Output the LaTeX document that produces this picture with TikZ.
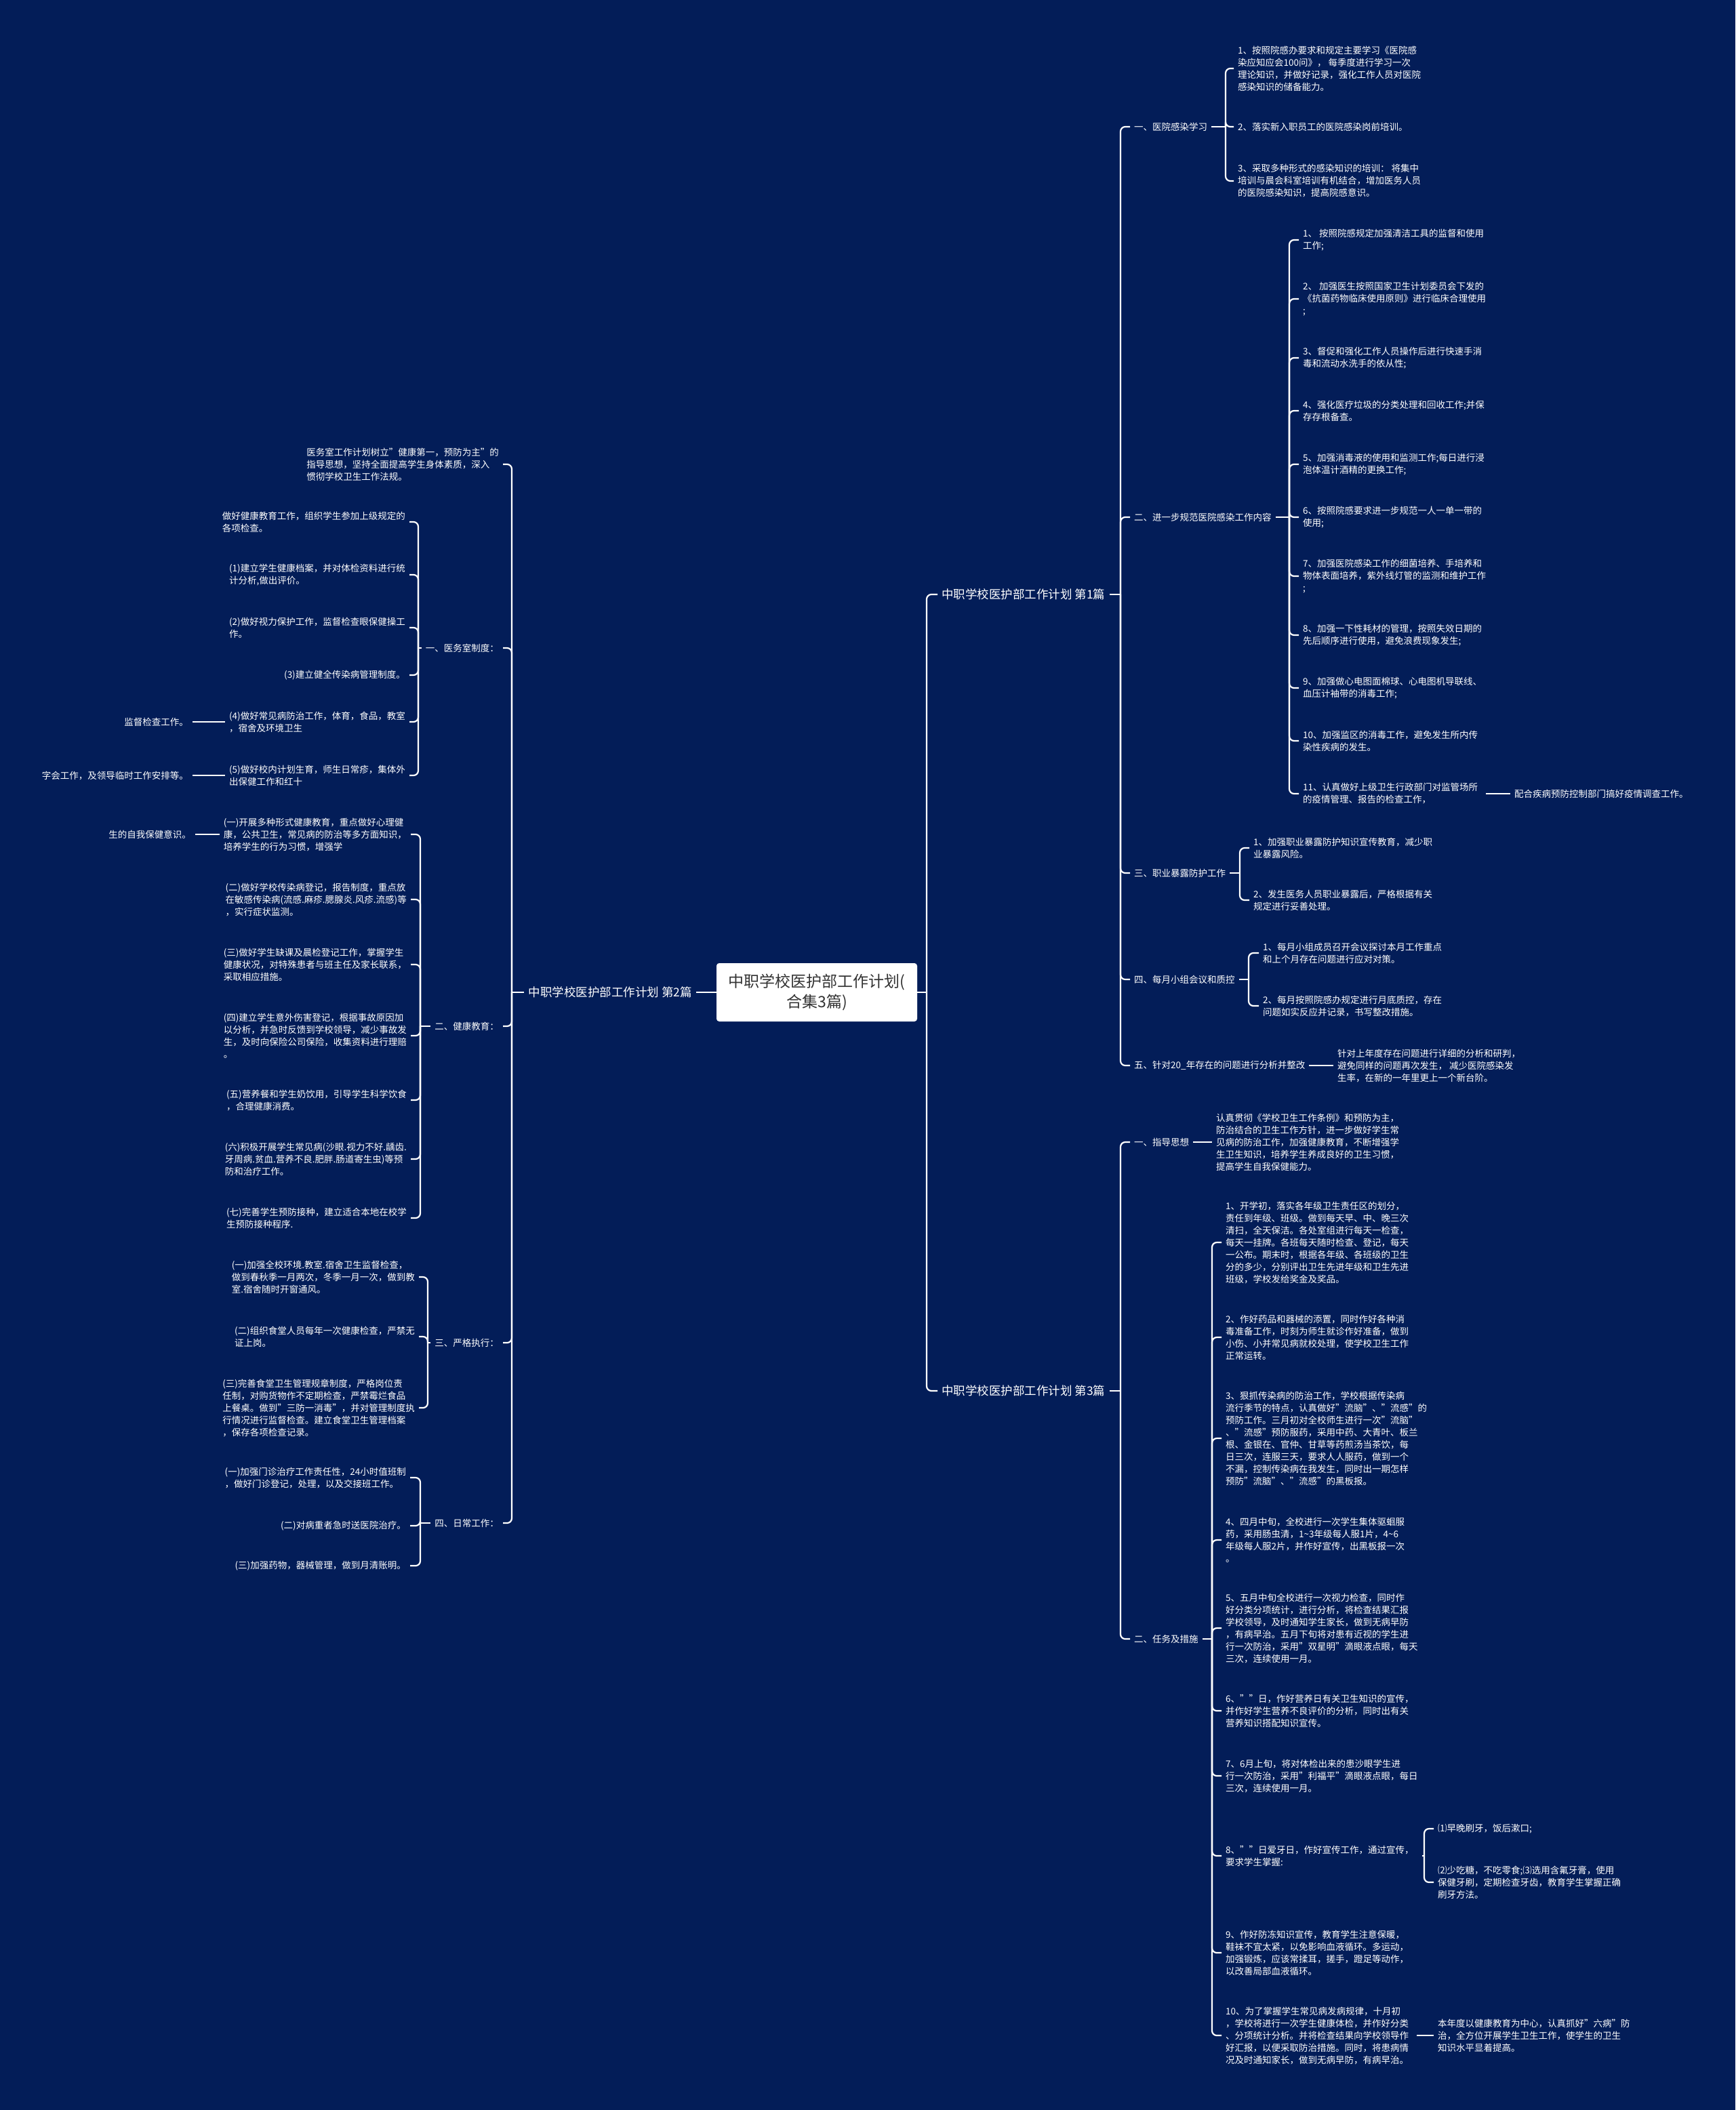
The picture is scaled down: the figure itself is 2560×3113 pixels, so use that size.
\documentclass[tikz,border=0pt]{standalone}
\usepackage{fontspec}
\setmainfont{Noto Sans CJK SC}
\usepackage{xcolor}
\usepackage{tikz}

\definecolor{mapbg}{HTML}{031D58}
\definecolor{hubtext}{HTML}{333333}

\begin{document}
\begin{tikzpicture}[
    x=1pt, y=-1pt,
    link/.style = {draw=white, line width=2.2pt, rounded corners=7pt},
    leaflink/.style = {link, shorten <=6pt},
    hub/.style  = {fill=white, rounded corners=4pt, minimum width=296pt,
                   minimum height=86pt, align=center, text=hubtext,
                   font=\fontsize{23}{30}\selectfont},
    part/.style = {text=white, inner xsep=6pt, font=\fontsize{17.5}{22}\selectfont},
    sec/.style  = {text=white, inner xsep=6pt, align=left,
                   font=\fontsize{13.5}{18}\selectfont}
  ]

  % background and page size
  \fill[mapbg] (0,0) rectangle (2560,3113);
  \useasboundingbox (0,0) rectangle (2560,3113);

  % ----------------------------------------------------------------
  % Centre node and the three parts
  % ----------------------------------------------------------------
  \node[hub] (hub) at (1205,1464) {中职学校医护部工作计划(\\合集3篇)};

  \node[part, anchor=west] (part1) at (1383,877)  {中职学校医护部工作计划 第1篇};
  \node[part, anchor=east] (part2) at (1027,1464) {中职学校医护部工作计划 第2篇};
  \node[part, anchor=west] (part3) at (1383,2052) {中职学校医护部工作计划 第3篇};

  \coordinate (t0) at (1367,1464);
  \draw[link] (hub.east) -- (t0);
  \foreach \p in {part1,part3}
    \draw[link] (t0) |- (\p.west);
  \draw[link] (part2.east) -- (hub.west);

  % ----------------------------------------------------------------
  % Part 1 (right, top)
  % ----------------------------------------------------------------
  \coordinate (t1) at (1653,877);
  \draw[link] (part1.east) -- (t1);
  \foreach \nm/\yy/\txt in {
      s11/187/{一、医院感染学习},
      s12/763/{二、进一步规范医院感染工作内容},
      s13/1288/{三、职业暴露防护工作},
      s14/1445/{四、每月小组会议和质控},
      s15/1572/{五、针对20\_年存在的问题进行分析并整改}}{
    \node[sec, anchor=west] (\nm) at (1667,\yy) {\txt};
    \draw[link] (t1) |- (\nm.west);
  }

  % 一、医院感染学习
  \coordinate (t11) at (1808,187);
  \draw[link] (s11.east) -- (t11);
  \foreach \nm/\yy/\txt in {
      s11i1/101/{1、按照院感办要求和规定主要学习《医院感\\染应知应会100问》， 每季度进行学习一次\\理论知识，并做好记录，强化工作人员对医院\\感染知识的储备能力。},
      s11i2/187/{2、落实新入职员工的医院感染岗前培训。},
      s11i3/267/{3、采取多种形式的感染知识的培训： 将集中\\培训与晨会科室培训有机结合，增加医务人员\\的医院感染知识，提高院感意识。}}{
    \node[sec, anchor=west] (\nm) at (1820,\yy) {\txt};
    \draw[link] (t11) |- (\nm.west);
  }

  % 二、进一步规范医院感染工作内容
  \coordinate (t12) at (1902,763);
  \draw[link] (s12.east) -- (t12);
  \foreach \nm/\yy/\txt in {
      s12i1/354/{1、 按照院感规定加强清洁工具的监督和使用\\工作;},
      s12i2/441/{2、 加强医生按照国家卫生计划委员会下发的\\《抗菌药物临床使用原则》进行临床合理使用\\;},
      s12i3/528/{3、督促和强化工作人员操作后进行快速手消\\毒和流动水洗手的依从性;},
      s12i4/606/{4、强化医疗垃圾的分类处理和回收工作;并保\\存存根备查。},
      s12i5/685/{5、加强消毒液的使用和监测工作;每日进行浸\\泡体温计酒精的更换工作;},
      s12i6/763/{6、按照院感要求进一步规范一人一单一带的\\使用;},
      s12i7/850/{7、加强医院感染工作的细菌培养、手培养和\\物体表面培养，紫外线灯管的监测和维护工作\\;},
      s12i8/937/{8、加强一下性耗材的管理，按照失效日期的\\先后顺序进行使用，避免浪费现象发生;},
      s12i9/1015/{9、加强做心电图面棉球、心电图机导联线、\\血压计袖带的消毒工作;},
      s12i10/1093/{10、加强监区的消毒工作，避免发生所内传\\染性疾病的发生。},
      s12i11/1171/{11、认真做好上级卫生行政部门对监管场所\\的疫情管理、报告的检查工作，}}{
    \node[sec, anchor=west] (\nm) at (1916,\yy) {\txt};
    \draw[link] (t12) |- (\nm.west);
  }
  \node[sec, anchor=west] (s12x) at (2228,1171) {配合疾病预防控制部门搞好疫情调查工作。};
  \draw[leaflink] (s12i11.east) -- (s12x.west);

  % 三、职业暴露防护工作
  \coordinate (t13) at (1829,1288);
  \draw[link] (s13.east) -- (t13);
  \foreach \nm/\yy/\txt in {
      s13i1/1251/{1、加强职业暴露防护知识宣传教育，减少职\\业暴露风险。},
      s13i2/1328/{2、发生医务人员职业暴露后，严格根据有关\\规定进行妥善处理。}}{
    \node[sec, anchor=west] (\nm) at (1843,\yy) {\txt};
    \draw[link] (t13) |- (\nm.west);
  }

  % 四、每月小组会议和质控
  \coordinate (t14) at (1842,1445);
  \draw[link] (s14.east) -- (t14);
  \foreach \nm/\yy/\txt in {
      s14i1/1406/{1、每月小组成员召开会议探讨本月工作重点\\和上个月存在问题进行应对对策。},
      s14i2/1484/{2、每月按照院感办规定进行月底质控，存在\\问题如实反应并记录，书写整改措施。}}{
    \node[sec, anchor=west] (\nm) at (1857,\yy) {\txt};
    \draw[link] (t14) |- (\nm.west);
  }

  % 五、针对20_年...
  \node[sec, anchor=west] (s15x) at (1967,1572)
        {针对上年度存在问题进行详细的分析和研判，\\避免同样的问题再次发生， 减少医院感染发\\生率，在新的一年里更上一个新台阶。};
  \draw[link] (s15.east) -- (s15x.west);

  % ----------------------------------------------------------------
  % Part 3 (right, bottom)
  % ----------------------------------------------------------------
  \coordinate (t3) at (1653,2052);
  \draw[link] (part3.east) -- (t3);
  \foreach \nm/\yy/\txt in {
      s31/1685/{一、指导思想},
      s32/2418/{二、任务及措施}}{
    \node[sec, anchor=west] (\nm) at (1667,\yy) {\txt};
    \draw[link] (t3) |- (\nm.west);
  }

  \node[sec, anchor=west] (s31x) at (1788,1685)
        {认真贯彻《学校卫生工作条例》和预防为主，\\防治结合的卫生工作方针，进一步做好学生常\\见病的防治工作，加强健康教育，不断增强学\\生卫生知识，培养学生养成良好的卫生习惯，\\提高学生自我保健能力。};
  \draw[link] (s31.east) -- (s31x.west);

  % 二、任务及措施
  \coordinate (t32) at (1788,2418);
  \draw[link] (s32.east) -- (t32);
  \foreach \nm/\yy/\txt in {
      s32i1/1833/{1、开学初，落实各年级卫生责任区的划分，\\责任到年级、班级。做到每天早、中、晚三次\\清扫，全天保洁。各处室组进行每天一检查，\\每天一挂牌。各班每天随时检查、登记，每天\\一公布。期末时，根据各年级、各班级的卫生\\分的多少，分别评出卫生先进年级和卫生先进\\班级，学校发给奖金及奖品。},
      s32i2/1973/{2、作好药品和器械的添置，同时作好各种消\\毒准备工作，时刻为师生就诊作好准备，做到\\小伤、小并常见病就校处理，使学校卫生工作\\正常运转。},
      s32i3/2122/{3、狠抓传染病的防治工作，学校根据传染病\\流行季节的特点，认真做好"流脑"、"流感"的\\预防工作。三月初对全校师生进行一次"流脑"\\、"流感"预防服药，采用中药、大青叶、板兰\\根、金银在、官仲、甘草等药煎汤当茶饮，每\\日三次，连服三天，要求人人服药，做到一个\\不漏，控制传染病在我发生，同时出一期怎样\\预防"流脑"、"流感"的黑板报。},
      s32i4/2272/{4、四月中旬，全校进行一次学生集体驱蛔服\\药，采用肠虫清，1\textasciitilde 3年级每人服1片，4\textasciitilde 6\\年级每人服2片，并作好宣传，出黑板报一次\\。},
      s32i5/2402/{5、五月中旬全校进行一次视力检查，同时作\\好分类分项统计，进行分析，将检查结果汇报\\学校领导，及时通知学生家长，做到无病早防\\，有病早治。五月下旬将对患有近视的学生进\\行一次防治，采用"双星明"滴眼液点眼，每天\\三次，连续使用一月。},
      s32i6/2524/{6、""日，作好营养日有关卫生知识的宣传，\\并作好学生营养不良评价的分析，同时出有关\\营养知识搭配知识宣传。},
      s32i7/2620/{7、6月上旬，将对体检出来的患沙眼学生进\\行一次防治，采用"利福平"滴眼液点眼，每日\\三次，连续使用一月。},
      s32i8/2738/{8、""日爱牙日，作好宣传工作，通过宣传，\\要求学生掌握:},
      s32i9/2881/{9、作好防冻知识宣传，教育学生注意保暖，\\鞋袜不宜太紧，以免影响血液循环。多运动，\\加强锻炼，应该常揉耳，搓手，蹬足等动作，\\以改善局部血液循环。},
      s32i10/3003/{10、为了掌握学生常见病发病规律，十月初\\，学校将进行一次学生健康体检，并作好分类\\、分项统计分析。并将检查结果向学校领导作\\好汇报，以便采取防治措施。同时，将患病情\\况及时通知家长，做到无病早防，有病早治。}}{
    \node[sec, anchor=west] (\nm) at (1802,\yy) {\txt};
    \draw[link] (t32) |- (\nm.west);
  }

  % sub items of item 8
  \coordinate (t328) at (2101,2738);
  \draw[leaflink] (s32i8.east) -- (t328);
  \foreach \nm/\yy/\txt in {
      s32i8a/2698/{⑴早晚刷牙，饭后漱口;},
      s32i8b/2777/{⑵少吃糖，不吃零食;⑶选用含氟牙膏，使用\\保健牙刷，定期检查牙齿，教育学生掌握正确\\刷牙方法。}}{
    \node[sec, anchor=west] (\nm) at (2115,\yy) {\txt};
    \draw[link] (t328) |- (\nm.west);
  }

  \node[sec, anchor=west] (s32x) at (2115,3003)
        {本年度以健康教育为中心，认真抓好"六病"防\\治，全方位开展学生卫生工作，使学生的卫生\\知识水平显着提高。};
  \draw[leaflink] (s32i10.east) -- (s32x.west);

  % ----------------------------------------------------------------
  % Part 2 (left side, children grow to the left)
  % ----------------------------------------------------------------
  \coordinate (t2) at (755,1464);
  \draw[link] (part2.west) -- (t2);
  \foreach \nm/\yy/\txt in {
      s20/685/{医务室工作计划树立"健康第一，预防为主"的\\指导思想，坚持全面提高学生身体素质，深入\\惯彻学校卫生工作法规。},
      s21/956/{一、医务室制度：},
      s22/1514/{二、健康教育：},
      s23/1981/{三、严格执行：},
      s24/2247/{四、日常工作：}}{
    \node[sec, anchor=east] (\nm) at (742,\yy) {\txt};
    \draw[link] (t2) |- (\nm.east);
  }

  % 一、医务室制度
  \coordinate (t21) at (617,956);
  \draw[link] (s21.west) -- (t21);
  \foreach \nm/\yy/\txt in {
      s21i0/770/{做好健康教育工作，组织学生参加上级规定的\\各项检查。},
      s21i1/848/{(1)建立学生健康档案，并对体检资料进行统\\计分析,做出评价。},
      s21i2/926/{(2)做好视力保护工作，监督检查眼保健操工\\作。},
      s21i3/996/{(3)建立健全传染病管理制度。},
      s21i4/1065/{(4)做好常见病防治工作，体育，食品，教室\\，宿舍及环境卫生},
      s21i5/1144/{(5)做好校内计划生育，师生日常疹，集体外\\出保健工作和红十}}{
    \node[sec, anchor=east] (\nm) at (604,\yy) {\txt};
    \draw[link] (t21) |- (\nm.east);
  }
  \node[sec, anchor=east] (s21x4) at (284,1065) {监督检查工作。};
  \node[sec, anchor=east] (s21x5) at (284,1144) {字会工作，及领导临时工作安排等。};
  \draw[link] (s21i4.west) -- (s21x4.east);
  \draw[link] (s21i5.west) -- (s21x5.east);

  % 二、健康教育
  \coordinate (t22) at (620,1514);
  \draw[link] (s22.west) -- (t22);
  \foreach \nm/\yy/\txt in {
      s22i1/1231/{(一)开展多种形式健康教育，重点做好心理健\\康，公共卫生，常见病的防治等多方面知识，\\培养学生的行为习惯，增强学},
      s22i2/1327/{(二)做好学校传染病登记，报告制度，重点放\\在敏感传染病(流感.麻疹.腮腺炎.风疹.流感)等\\，实行症状监测。},
      s22i3/1423/{(三)做好学生缺课及晨检登记工作，掌握学生\\健康状况，对特殊患者与班主任及家长联系，\\采取相应措施。},
      s22i4/1528/{(四)建立学生意外伤害登记，根据事故原因加\\以分析，并急时反馈到学校领导，减少事故发\\生，及时向保险公司保险，收集资料进行理赔\\。},
      s22i5/1623/{(五)营养餐和学生奶饮用，引导学生科学饮食\\，合理健康消费。},
      s22i6/1710/{(六)积极开展学生常见病(沙眼.视力不好.龋齿.\\牙周病.贫血.营养不良.肥胖.肠道寄生虫)等预\\防和治疗工作。},
      s22i7/1797/{(七)完善学生预防接种，建立适合本地在校学\\生预防接种程序.}}{
    \node[sec, anchor=east] (\nm) at (606,\yy) {\txt};
    \draw[link] (t22) |- (\nm.east);
  }
  \node[sec, anchor=east] (s22x1) at (288,1231) {生的自我保健意识。};
  \draw[link] (s22i1.west) -- (s22x1.east);

  % 三、严格执行
  \coordinate (t23) at (631,1981);
  \draw[link] (s23.west) -- (t23);
  \foreach \nm/\yy/\txt in {
      s23i1/1884/{(一)加强全校环境.教室.宿舍卫生监督检查，\\做到春秋季一月两次，冬季一月一次，做到教\\室.宿舍随时开窗通风。},
      s23i2/1972/{(二)组织食堂人员每年一次健康检查，严禁无\\证上岗。},
      s23i3/2077/{(三)完善食堂卫生管理规章制度，严格岗位责\\任制，对购货物作不定期检查，严禁霉烂食品\\上餐桌。做到"三防一消毒"，并对管理制度执\\行情况进行监督检查。建立食堂卫生管理档案\\，保存各项检查记录。}}{
    \node[sec, anchor=east] (\nm) at (618,\yy) {\txt};
    \draw[link] (t23) |- (\nm.east);
  }

  % 四、日常工作
  \coordinate (t24) at (620,2247);
  \draw[link] (s24.west) -- (t24);
  \foreach \nm/\yy/\txt in {
      s24i1/2180/{(一)加强门诊治疗工作责任性，24小时值班制\\，做好门诊登记，处理，以及交接班工作。},
      s24i2/2251/{(二)对病重者急时送医院治疗。},
      s24i3/2310/{(三)加强药物，器械管理，做到月清账明。}}{
    \node[sec, anchor=east] (\nm) at (605,\yy) {\txt};
    \draw[link] (t24) |- (\nm.east);
  }

\end{tikzpicture}
\end{document}
